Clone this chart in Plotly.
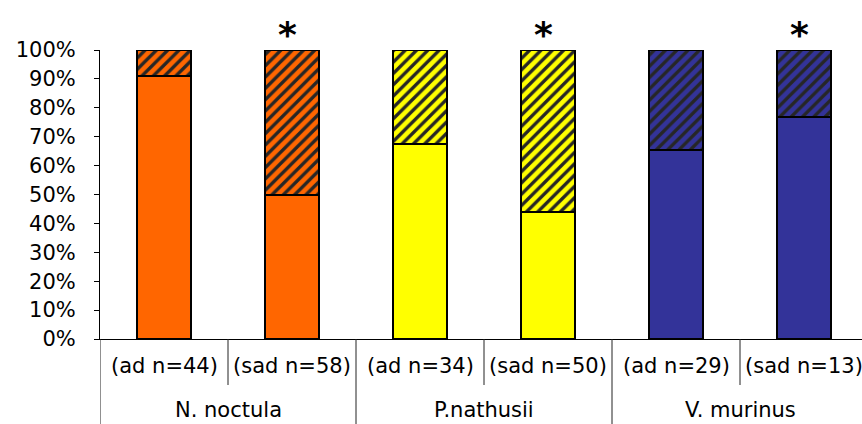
import plotly.graph_objects as go

# Species groups and the age-class sub-groups under each
species = ["N. noctula", "P.nathusii", "V. murinus"]
sub_labels = ["(ad n=44)", "(sad n=58)", "(ad n=34)", "(sad n=50)", "(ad n=29)", "(sad n=13)"]

# Share of each bar (percent): solid lower part and hatched upper part
solid_pct = [90.9, 50.0, 67.6, 44.0, 65.5, 76.9]
hatched_pct = [9.1, 50.0, 32.4, 56.0, 34.5, 23.1]

# Bars marked as significant
significant = [False, True, False, True, False, True]

species_colors = ["#FF6600", "#FFFF00", "#333399"]
bar_colors = [c for c in species_colors for _ in range(2)]

FONT = "DejaVu Sans"
x_pos = list(range(len(sub_labels)))
bar_w = 0.415

fig = go.Figure()

fig.add_trace(go.Bar(
    x=x_pos, y=solid_pct, width=bar_w,
    marker=dict(color=bar_colors, line=dict(color="black", width=2)),
    showlegend=False, hoverinfo="skip",
))

# Hatched upper parts, one trace per species so each gets its own pattern colours
for g, col in enumerate(species_colors):
    idx = [2 * g, 2 * g + 1]
    fig.add_trace(go.Bar(
        x=[x_pos[i] for i in idx], y=[hatched_pct[i] for i in idx], width=bar_w,
        marker=dict(
            color=col,
            line=dict(color="black", width=2),
            pattern=dict(shape="/", fgcolor="#262626", bgcolor=col, fgopacity=1,
                         size=8, solidity=0.42, fillmode="overlay"),
        ),
        showlegend=False, hoverinfo="skip",
    ))

shapes = []
annotations = []

# Dividers below the axis: short ones between age classes, long ones between species
for i in range(len(sub_labels) + 1):
    xb = i - 0.5
    long_div = (i % 2 == 0)
    shapes.append(dict(
        type="line", xref="x", yref="paper",
        x0=xb, x1=xb, y0=0, y1=(-85 / 289) if long_div else (-46 / 289),
        line=dict(color="#222222", width=1),
    ))

for i, lab in enumerate(sub_labels):
    annotations.append(dict(
        x=i, y=0, xref="x", yref="paper", text=lab, showarrow=False,
        yanchor="middle", yshift=-27, font=dict(family=FONT, size=21, color="black"),
    ))

for g, name in enumerate(species):
    annotations.append(dict(
        x=2 * g + 0.5, y=0, xref="x", yref="paper", text=name, showarrow=False,
        yanchor="middle", yshift=-71, font=dict(family=FONT, size=21, color="black"),
    ))

for i, sig in enumerate(significant):
    if sig:
        annotations.append(dict(
            x=i, y=1, xref="x", yref="paper", text="<b>*</b>", showarrow=False,
            yanchor="middle", yshift=16, xshift=-5,
            font=dict(family=FONT, size=36, color="black"),
        ))

fig.update_layout(
    width=862, height=424,
    margin=dict(l=100, r=0, t=50, b=85),
    barmode="stack",
    plot_bgcolor="white", paper_bgcolor="white",
    shapes=shapes, annotations=annotations,
    xaxis=dict(
        range=[-0.5, -0.5 + 762 / 128], showticklabels=False, ticks="",
        showgrid=False, zeroline=False, showline=True, linecolor="black", linewidth=1,
    ),
    yaxis=dict(
        range=[0, 100], tickvals=list(range(0, 101, 10)),
        ticktext=[f"{v}%" for v in range(0, 101, 10)],
        ticks="outside", ticklen=5, tickcolor="black", ticklabelstandoff=14,
        showgrid=False, zeroline=False, showline=True, linecolor="black", linewidth=1,
        tickfont=dict(family=FONT, size=21, color="black"),
    ),
)

fig.write_html("out.html")
